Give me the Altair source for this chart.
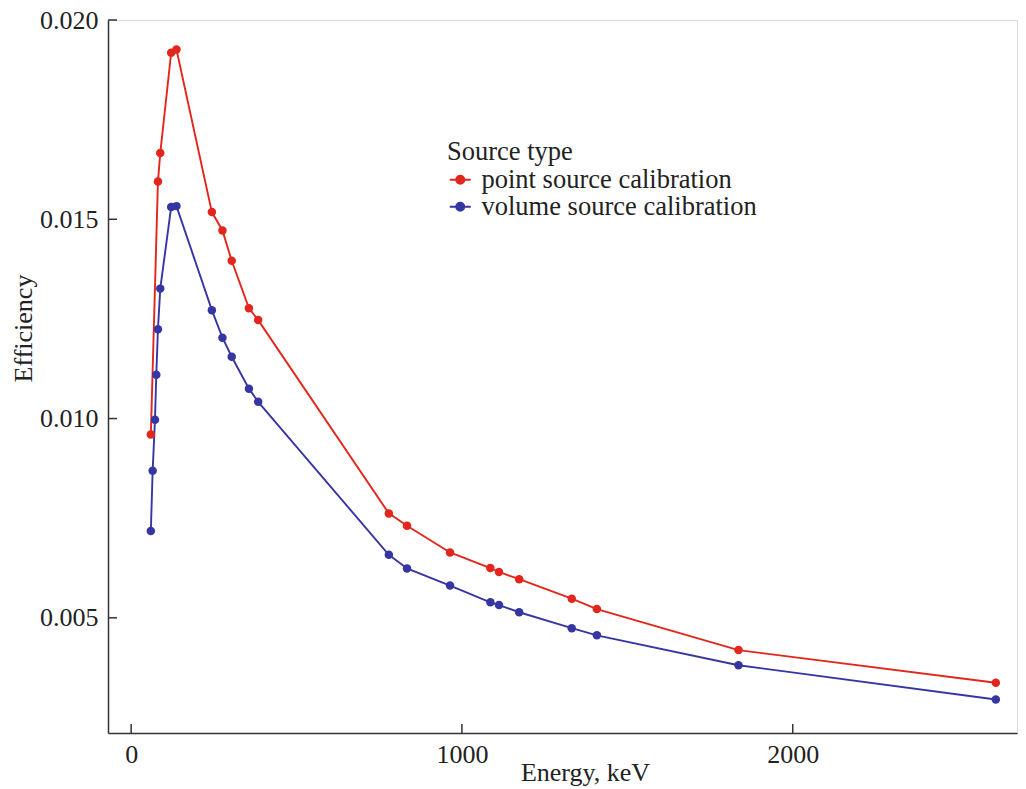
import altair as alt
import pandas as pd

# ---- data ----
point_energy = [59.5, 81, 88, 121, 137, 244, 276, 304, 356, 384, 779, 834, 964, 1086, 1112, 1173, 1332, 1408, 1836, 2614]
point_eff = [0.00960, 0.01595, 0.01666, 0.01918, 0.01926, 0.01518, 0.01472, 0.01396, 0.01277, 0.01247,
             0.00762, 0.00731, 0.00664, 0.00625, 0.00615, 0.00597, 0.00548, 0.00522, 0.00419, 0.00337]

volume_energy = [59.5, 65, 72, 76, 81, 88, 121, 137, 244, 276, 304, 356, 384, 779, 834, 964, 1086, 1112, 1173, 1332, 1408, 1836, 2614]
volume_eff = [0.00718, 0.00869, 0.00997, 0.01110, 0.01224, 0.01326, 0.01531, 0.01533, 0.01272, 0.01203,
              0.01155, 0.01075, 0.01042, 0.00658, 0.00624, 0.00581, 0.00539, 0.00532, 0.00514, 0.00474,
              0.00456, 0.00381, 0.00295]

series_names = ["point source calibration", "volume source calibration"]
series_colors = ["#e3261c", "#3636a3"]

x_ticks = [0, 1000, 2000]
y_ticks = [0.005, 0.010, 0.015, 0.020]
x_domain = [-70, 2678]
y_domain = [0.00211, 0.020]

df = pd.concat([
    pd.DataFrame({"Energy": point_energy, "Efficiency": point_eff, "Source type": series_names[0]}),
    pd.DataFrame({"Energy": volume_energy, "Efficiency": volume_eff, "Source type": series_names[1]}),
])

FONT = "Liberation Serif"
W, H = 909, 713

xscale = alt.Scale(domain=x_domain, nice=False, zero=False)
yscale = alt.Scale(domain=y_domain, nice=False, zero=False)

color = alt.Color(
    "Source type:N",
    scale=alt.Scale(domain=series_names, range=series_colors),
    legend=alt.Legend(
        orient="none", legendX=339, legendY=119,
        title="Source type", titleFont=FONT, titleFontSize=26.5, titleFontWeight="normal",
        titleColor="#222", titlePadding=1, titleLimit=0,
        labelFont=FONT, labelFontSize=26.5, labelColor="#222", labelOffset=8, labelLimit=0,
        symbolType="M-1,0L1,0M-0.38,0A0.38,0.38 0 1,1 0.38,0A0.38,0.38 0 1,1 -0.38,0Z",
        symbolSize=440, symbolStrokeWidth=2, rowPadding=-1, padding=0,
    ),
)

x_enc = alt.X("Energy:Q", scale=xscale, axis=alt.Axis(
    values=x_ticks, format="d", title="Energy, keV", grid=False,
    tickSize=0, labelPadding=8, labelFont=FONT, labelFontSize=26, labelColor="#222",
    titleFont=FONT, titleFontSize=26, titleFontWeight="normal", titleColor="#222",
    titleX=477, titleY=47, titleAlign="center", titleBaseline="alphabetic",
    domainColor="#333", domainWidth=1.5, labelFlush=False))
y_enc = alt.Y("Efficiency:Q", scale=yscale, axis=alt.Axis(
    values=y_ticks, format=".3f", title="Efficiency", grid=False,
    tickSize=0, labelPadding=10, labelFont=FONT, labelFontSize=26, labelColor="#222",
    titleFont=FONT, titleFontSize=26, titleFontWeight="normal", titleColor="#222",
    titleX=-77, titleY=308, titleAlign="center", titleBaseline="alphabetic", titleAngle=270,
    domainColor="#333", domainWidth=1.5, labelFlush=False))

lines = alt.Chart(df).mark_line(strokeWidth=1.9).encode(
    x=x_enc, y=y_enc, color=color, order="Energy:Q")
points = alt.Chart(df).mark_circle(size=72, opacity=1).encode(
    x=alt.X("Energy:Q", scale=xscale), y=alt.Y("Efficiency:Q", scale=yscale),
    color=alt.Color("Source type:N", scale=alt.Scale(domain=series_names, range=series_colors), legend=None))

xt = pd.DataFrame({"v": x_ticks})
yt = pd.DataFrame({"v": y_ticks})
xtick_rules = alt.Chart(xt).mark_rule(color="#333", strokeWidth=1.5).encode(
    x=alt.X("v:Q", scale=xscale), y=alt.value(H), y2=alt.value(H - 9))
ytick_rules = alt.Chart(yt).mark_rule(color="#333", strokeWidth=1.5).encode(
    y=alt.Y("v:Q", scale=yscale), x=alt.value(0), x2=alt.value(9))

chart = alt.layer(lines, points, xtick_rules, ytick_rules).properties(
    width=W, height=H,
    padding={"left": 100, "top": 12, "right": 1, "bottom": 56},
    autosize=alt.AutoSizeParams(type="none"),
).configure_view(stroke=None).configure(
    background="white", font=FONT
).configure_legend(labelFont=FONT, titleFont=FONT)

chart.save("out.html", embed_options={"renderer": "svg", "actions": False})
